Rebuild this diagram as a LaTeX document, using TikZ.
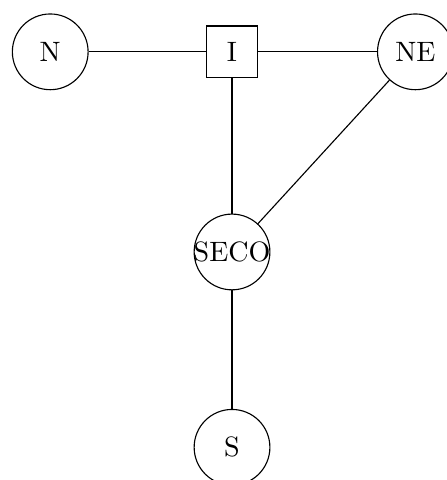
\documentclass[tikz,border=0pt]{standalone}
\usepackage{amsmath,amssymb}
\usepackage{tikz}
\usetikzlibrary{arrows,positioning,calc}

\tikzset{
  region/.style = {circle, draw=black, minimum size = 9.5mm, inner sep = 0pt},
  hub/.style = {rectangle, draw=black, semithick, minimum size = 6.4mm, inner sep = 0pt}
}

\begin{document}
\begin{tikzpicture}
  \useasboundingbox (0,0) rectangle (5.6,-6.02);

  \node (n) [region] at (0.63,-0.65) {N};
  \node (i) [hub] at (2.91,-0.65) {I};
  \node (ne) [region] at (5.21,-0.65) {NE};
  \node (seco) [region] at (2.91,-3.16) {\makebox[0pt]{SECO}};
  \node (s) [region] at (2.91,-5.61) {S};

  \path [-]
  (n) edge node {} (i)
  (i) edge node {} (ne)
  (i) edge node {} (seco)
  (ne) edge node {} (seco)
  (seco) edge node {} (s);
\end{tikzpicture}
\end{document}
